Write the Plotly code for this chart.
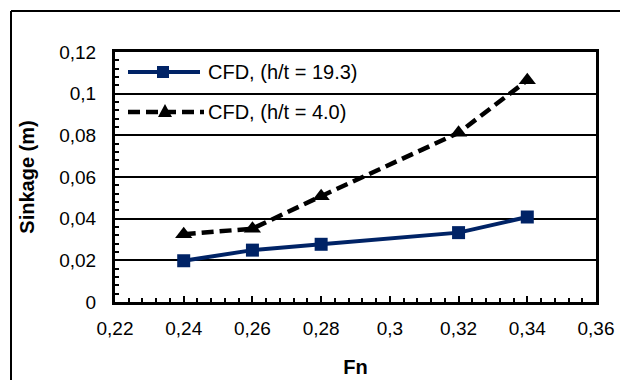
import plotly.graph_objects as go

fn = [0.24, 0.26, 0.28, 0.32, 0.34]
sink_deep = [0.0198, 0.0249, 0.0277, 0.0333, 0.0408]
sink_shallow = [0.0325, 0.0352, 0.0508, 0.0812, 0.1064]
name_deep = "CFD, (h/t = 19.3)"
name_shallow = "CFD, (h/t = 4.0)"
x_ticks = [0.22, 0.24, 0.26, 0.28, 0.30, 0.32, 0.34, 0.36]
x_ticktext = ["0,22", "0,24", "0,26", "0,28", "0,3", "0,32", "0,34", "0,36"]
y_ticks = [0, 0.02, 0.04, 0.06, 0.08, 0.10, 0.12]
y_ticktext = ["0", "0,02", "0,04", "0,06", "0,08", "0,1", "0,12"]

FONT = "Liberation Sans, Arial, sans-serif"
BLUE = "#002366"

# plot area in pixels
W, H = 620, 380
L, R, T, B = 115, 24, 52, 78
PW, PH = W - L - R, H - T - B


def px(xp):
    return (xp - L) / PW


def py(yp):
    return (H - B - yp) / PH


fig = go.Figure()
fig.add_trace(go.Scatter(
    x=fn, y=sink_deep, name=name_deep, mode="lines+markers",
    line=dict(color=BLUE, width=4),
    marker=dict(symbol="square", size=13, color=BLUE),
))
fig.add_trace(go.Scatter(
    x=fn, y=sink_shallow, name=name_shallow, mode="lines+markers",
    line=dict(color="black", width=4.5, dash="12px,6px"),
    marker=dict(symbol="triangle-up", size=15, color="black"),
))

axis_common = dict(
    showline=True, linecolor="black", linewidth=3, mirror=True,
    ticks="inside", ticklen=6, tickwidth=2, tickcolor="black",
    tickfont=dict(family=FONT, size=19, color="black"),
    zeroline=False, automargin=False,
)

fig.update_xaxes(
    range=[0.22, 0.36], tickvals=x_ticks, ticktext=x_ticktext,
    showgrid=False, ticklabelstandoff=7,
    minor=dict(dtick=0.004, tick0=0.22, ticks="inside", ticklen=4, tickwidth=2, tickcolor="black"),
    title=dict(text="<b>Fn</b>", font=dict(family=FONT, size=20, color="black"), standoff=23),
    **axis_common,
)
fig.update_yaxes(
    range=[0, 0.12], tickvals=y_ticks, ticktext=y_ticktext,
    showgrid=True, gridcolor="black", gridwidth=2, ticklabelstandoff=12,
    minor=dict(dtick=0.004, tick0=0, ticks="inside", ticklen=4, tickwidth=2, tickcolor="black", showgrid=False),
    title=dict(text="<b>Sinkage (m)</b>", font=dict(family=FONT, size=20, color="black"), standoff=20),
    **axis_common,
)

fig.update_layout(
    width=W, height=H,
    margin=dict(l=L, r=R, t=T, b=B, autoexpand=False),
    plot_bgcolor="white", paper_bgcolor="white",
    showlegend=False,
)

# Manual legend (longer sample lines like the original)
leg_y = [72, 112]
fig.add_shape(type="line", xref="paper", yref="paper",
              x0=px(128), x1=px(200), y0=py(leg_y[0]), y1=py(leg_y[0]),
              line=dict(color=BLUE, width=4))
fig.add_shape(type="rect", xref="paper", yref="paper",
              x0=px(157), x1=px(169), y0=py(leg_y[0] - 6), y1=py(leg_y[0] + 6),
              fillcolor=BLUE, line=dict(width=0))
fig.add_shape(type="line", xref="paper", yref="paper",
              x0=px(128), x1=px(204), y0=py(leg_y[1]), y1=py(leg_y[1]),
              line=dict(color="black", width=4.5, dash="12px,6px"))
tri = "M {} {} L {} {} L {} {} Z".format(
    px(158), py(leg_y[1] + 5), px(172), py(leg_y[1] + 5), px(165), py(leg_y[1] - 8))
fig.add_shape(type="path", xref="paper", yref="paper", path=tri,
              fillcolor="black", line=dict(width=0))
for yy, name in zip(leg_y, [name_deep, name_shallow]):
    fig.add_annotation(x=px(206), y=py(yy), xref="paper", yref="paper",
                       text=name, showarrow=False, xanchor="left", yanchor="middle",
                       font=dict(family=FONT, size=20, color="black"))

# Outer chart-area border (top and left edges visible)
fig.add_shape(type="line", xref="paper", yref="paper",
              x0=px(11), x1=px(640), y0=py(11), y1=py(11),
              line=dict(color="black", width=2))
fig.add_shape(type="line", xref="paper", yref="paper",
              x0=px(11), x1=px(11), y0=py(11), y1=py(400),
              line=dict(color="black", width=2))

fig.write_html("out.html")
